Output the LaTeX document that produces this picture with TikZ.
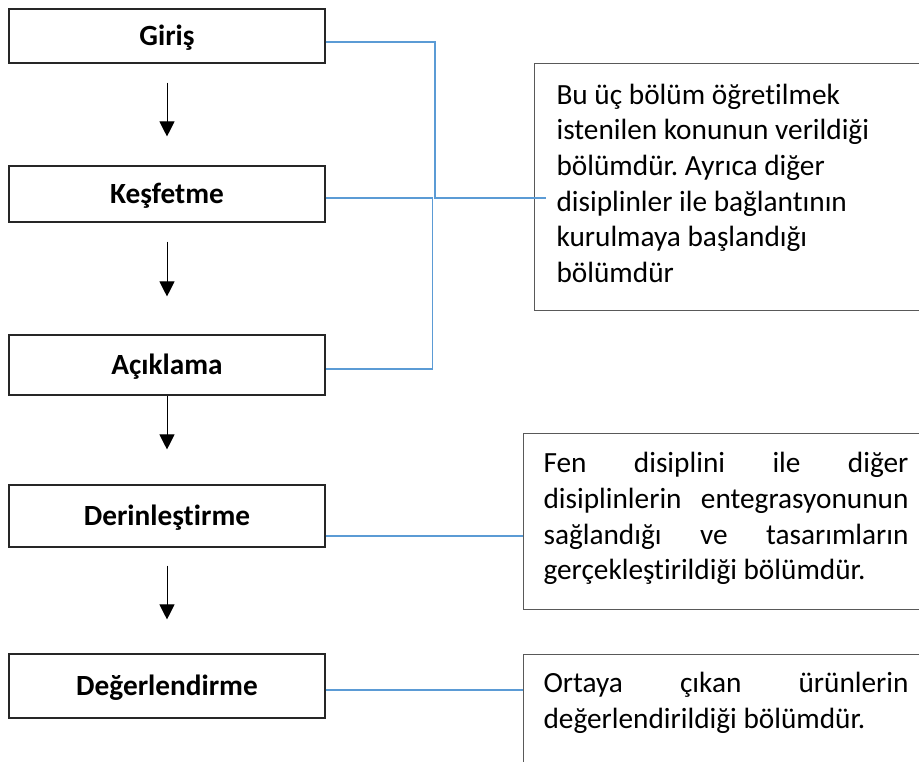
\documentclass[tikz,border=0pt]{standalone}
\usepackage{fontspec}
\setmainfont{Carlito}[Ligatures=NoCommon]
\usepackage{tikz}
\usetikzlibrary{arrows.meta, positioning, calc}
\definecolor{cLink}{RGB}{91,155,213}
\definecolor{cFrame}{RGB}{38,38,38}
\definecolor{cNote}{RGB}{89,89,89}
\frenchspacing
\tikzset{
	stage/.style    ={rectangle, draw=cFrame, line width=1.1pt, fill=white, minimum width=316pt, inner sep=0pt, text height=19pt, text depth=0pt, font=\fontsize{29.3}{35}\selectfont\bfseries},
	note/.style     ={rectangle, draw=cNote, line width=1.1pt, fill=white, anchor=north west, align=flush left, text width=365pt, inner xsep=20pt, inner ysep=18pt, font=\fontsize{29.3}{35.6}\selectfont},
	flowarrow/.style={-{Triangle[length=15pt, width=15pt]}, line width=1pt},
	link/.style     ={draw=cLink, line width=1.1pt},
}

\begin{document}
\begin{tikzpicture}[x=1pt, y=-1pt]
	\useasboundingbox (0,0) rectangle (919,762);
	\clip (0,0) rectangle (919,762);
	% ---------- stages ----------
	\node[stage, minimum height=54pt] (giris)    at (167,36)  {Giriş};
	\node[stage, minimum height=56pt] (kesfet)   at (167,194) {Keşfetme};
	\node[stage, minimum height=60pt] (aciklama) at (167,365) {Açıklama};
	\node[stage, minimum height=62pt] (derin)    at (167,516) {Derinleştirme};
	\node[stage, minimum height=64pt] (deger)    at (167,686) {Değerlendirme};
	% ---------- notes ----------
	\node[note, text width=380pt, inner xsep=22pt, minimum height=247pt] (note1) at (534,63)
		{Bu üç bölüm öğretilmek\\ istenilen konunun verildiği\\ bölümdür. Ayrıca diğer\\ disiplinler ile bağlantının\\ kurulmaya başlandığı\\ bölümdür\rule[-8pt]{0pt}{0pt}};
	\node[note, minimum height=176pt] (note2) at (523,433)
		{Fen\hfill disiplini\hfill ile\hfill diğer\\ disiplinlerin\hfill entegrasyonunun\\ sağlandığı\hfill ve\hfill tasarımların\\ gerçekleştirildiği bölümdür.\rule[-11pt]{0pt}{0pt}};
	\node[note] (note3) at (523,654)
		{Ortaya\hfill çıkan\hfill ürünlerin\\ değerlendirildiği bölümdür.\rule[-30pt]{0pt}{0pt}};
	% ---------- flow ----------
	\draw[flowarrow, shorten <=19pt, shorten >=29pt] (giris) -- (kesfet);
	\draw[flowarrow, shorten <=19pt, shorten >=38pt] (kesfet) -- (aciklama);
	\draw[flowarrow, shorten >=35pt] (aciklama) -- (derin);
	\draw[flowarrow, shorten <=18pt, shorten >=34pt] (derin) -- (deger);
	% ---------- links to notes ----------
	\coordinate (j1) at (435,198);
	\draw[link] ($(giris.east)+(0,6)$) -| (j1) -- ([xshift=12pt]j1 -| note1.west);
	\draw[link] ($(kesfet.east)+(0,4)$) -- ++(107,0) |- ($(aciklama.east)+(0,4)$);
	\draw[link] ($(derin.east)+(0,20)$) coordinate (d1) -- (d1 -| note2.west);
	\draw[link] ($(deger.east)+(0,4)$) coordinate (d2) -- (d2 -| note3.west);
\end{tikzpicture}
\end{document}
